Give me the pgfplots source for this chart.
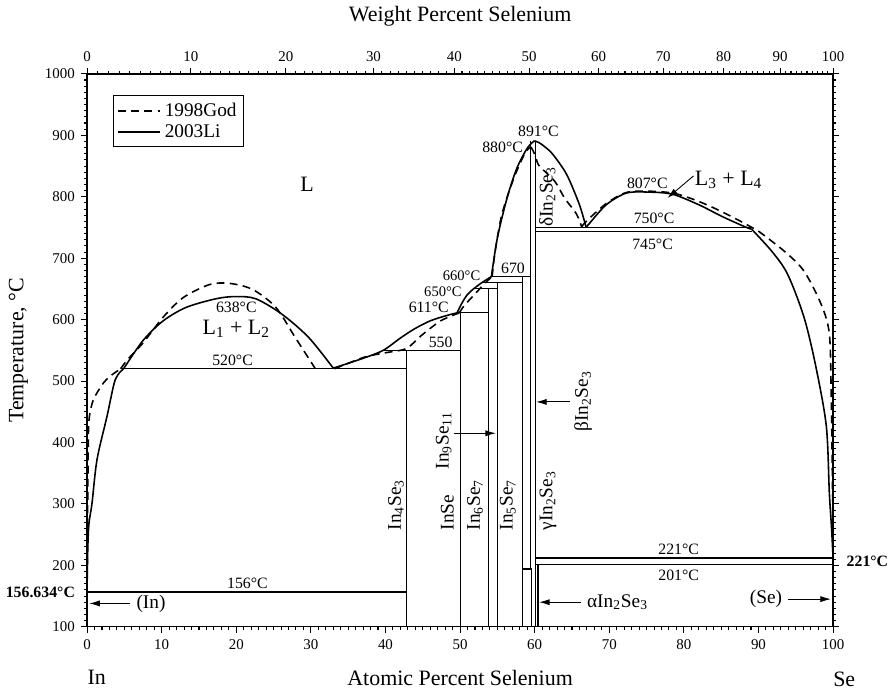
\documentclass[border=0pt]{standalone}
\usepackage{fontspec}
\setmainfont{Liberation Serif}
\usepackage{pgfplots}
\pgfplotsset{compat=1.18}
\usetikzlibrary{arrows.meta}
\newcommand\wtminor{0}
\foreach \w in {1,...,100}{\pgfmathparse{145.397*\w/(100+0.45397*\w)}\xdef\wtminor{\wtminor,\pgfmathresult}}
\newcommand\smf{\fontsize{9}{10}\selectfont}
\newcommand\xsf{\fontsize{8.3}{9}\selectfont}
\newcommand\mdf{\fontsize{11}{13}\selectfont}
\newcommand\lgf{\fontsize{12.5}{14}\selectfont}
\pgfplotsset{
  li/.style={black, line width=0.9pt, smooth, tension=0.5, no markers},
  god/.style={black, line width=0.9pt, dash pattern=on 4.5pt off 3pt, smooth, tension=0.5, no markers},
  bnd/.style={black, line width=0.65pt, no markers, forget plot},
}
\begin{document}
\begin{tikzpicture}[>={Latex[length=6pt,width=3.5pt]}]
\begin{axis}[
  width=425pt, height=315pt, scale only axis,
  xmin=0, xmax=100, ymin=100, ymax=1000,
  xtick={0,10,...,100}, ytick={100,200,...,1000},
  minor x tick num=9, minor y tick num=9,
  xtick pos=left,
  tick align=outside, major tick length=3.5pt, minor tick length=1.6pt,
  every tick/.style={black, line width=0.6pt},
  axis line style={line width=0.8pt},
  ticklabel style={font=\fontsize{8.5}{10}\selectfont},
  /pgf/number format/assume math mode=true,
  /pgf/number format/1000 sep={},
  xlabel={Atomic Percent Selenium},
  ylabel={Temperature, °C},
  xlabel style={font=\lgf, at={(axis description cs:0.5,-0.092)}, anchor=center},
  ylabel style={font=\lgf, at={(axis description cs:-0.092,0.5)}, anchor=center},
  clip=false,
  legend style={at={(0.035,0.961)}, anchor=north west, draw=black, line width=0.6pt, font=\mdf, inner sep=2pt, row sep=-1pt},
  legend cell align=left,
  legend image code/.code={\draw[#1] (0cm,0cm) -- (0.85cm,0cm);},
]
% 1998God (dashed)
\addplot[god] coordinates {(0,156.634) (0.05,250) (0.12,350) (0.22,430) (0.6,460) (1.1,476) (2.2,497) (3.1,508) (4.5,520)};
\addlegendentry{1998God}
% 2003Li (solid)
\addplot[li] coordinates {(0,156.634) (0.02,180) (0.1,230) (0.25,268) (0.66,301) (1.33,372) (2.66,442) (3.77,502) (4.9,520)};
\addlegendentry{2003Li}

% --- 1998God remaining branches
\addplot[god, forget plot] coordinates {(4.5,520) (5.5,536) (7.5,562) (10.2,604) (12.9,636) (16.4,657) (19.1,659) (22.2,649) (25.3,620) (27.9,571) (30.6,520)};
\addplot[god, forget plot] coordinates {(33.2,520) (37.2,539) (40,546) (42.8,553) (44.8,574) (47.4,598) (49.9,611)};
\addplot[god, forget plot] coordinates {(49.9,611) (50.5,622) (51.4,634) (52.4,647) (53.3,659) (54.3,670)};
\addplot[god, forget plot] coordinates {(54.3,670) (54.7,711) (55.6,771) (57.2,830) (58.7,871) (59.5,881)};
\addplot[god, forget plot] coordinates {(59.5,881) (59.9,872) (60.3,858) (60.7,849) (62.7,825) (64.0,798) (65.6,772) (66.3,751)};
\addplot[god, forget plot] coordinates {(66.3,751) (67,761) (69.6,789) (72.3,807) (75.4,809) (78.5,806) (81,797) (83.8,783) (87.3,762) (90,744)};
\addplot[god, forget plot] coordinates {(90,744) (93.5,711) (96.1,679) (98.4,625) (99.5,577) (99.75,480) (99.9,350) (100,212)};

% --- 2003Li remaining branches
\addplot[li, forget plot] coordinates {(4.9,520) (7.5,566) (10.2,598) (13.3,620) (17.3,634) (19.9,637.5) (22.6,634) (26.1,609) (29.7,571) (33.0,521)};
\addplot[li, forget plot] coordinates {(33.0,521) (37,537) (39.7,550) (42,570) (43.9,585) (46,598) (48.3,607) (49.6,611)};
\addplot[li, forget plot] coordinates {(49.6,611) (50.3,628) (51.0,641) (51.8,650) (52.9,660) (54.2,670)};
\addplot[li, forget plot] coordinates {(54.2,670) (55.0,733) (56.3,798) (57.6,846) (59.0,879) (59.95,891)};
\addplot[li, forget plot] coordinates {(59.95,891) (60.6,888) (61.5,880) (62.5,868) (64.3,836) (66.0,787) (66.9,750)};
\addplot[li, forget plot] coordinates {(66.9,750) (67.3,756) (69.6,787) (72.3,806) (75.4,807.5) (78.5,804) (82.0,787) (85.1,768) (88.2,751) (89.1,747)};
\addplot[li, forget plot] coordinates {(89.1,747) (91.8,711) (93.9,674) (96.1,604) (97.7,523) (99.1,426) (99.5,318) (99.8,260) (100,212)};

% --- invariant lines
\addplot[bnd] coordinates {(0,156.634) (42.86,156.634)};
\addplot[bnd] coordinates {(4.5,520) (42.86,520)};
\addplot[bnd] coordinates {(39.7,550) (50,550)};
\addplot[bnd] coordinates {(49.6,611) (53.85,611)};
\addplot[bnd] coordinates {(51.8,650) (55,650)};
\addplot[bnd] coordinates {(52.9,660) (58.33,660)};
\addplot[bnd] coordinates {(54.2,670) (59.4,670)};
\addplot[bnd] coordinates {(60.1,750) (89.1,750)};
\addplot[bnd] coordinates {(60.1,744) (89.1,744)};
\addplot[bnd] coordinates {(60.1,212) (100,212)};
\addplot[bnd] coordinates {(60.1,201) (100,201)};
\addplot[bnd] coordinates {(58.33,194) (59.6,194)};
% --- compounds
\addplot[bnd] coordinates {(42.86,100) (42.86,550)};
\addplot[bnd] coordinates {(50,100) (50,611)};
\addplot[bnd] coordinates {(53.85,100) (53.85,650)};
\addplot[bnd] coordinates {(55,100) (55,660)};
\addplot[bnd] coordinates {(58.33,100) (58.33,670)};
\addplot[bnd] coordinates {(59.4,194) (59.4,891)};
\addplot[bnd] coordinates {(60.1,100) (60.1,891)};
\addplot[bnd] coordinates {(59.6,100) (59.6,194)};
\addplot[bnd, line width=1.1pt] coordinates {(60.4,100) (60.4,201)};

% --- labels
\node[font=\lgf] at (axis cs:29.5,820) {L};
\node[font=\smf] at (axis cs:20,620) {638°C};
\node[font=\lgf] at (axis cs:20,585) {L\textsubscript{1} + L\textsubscript{2}};
\node[font=\smf] at (axis cs:19.5,533) {520°C};
\node[font=\smf] at (axis cs:21.5,170) {156°C};
\node[font=\mdf, anchor=west] at (axis cs:5.8,138) {(In)};
\draw[->, line width=0.5pt] (axis cs:5.8,138) -- (axis cs:0.3,138);
\node[font=\smf] at (axis cs:47.4,563) {550};
\node[font=\smf] at (axis cs:45.8,620) {611°C};
\node[font=\xsf] at (axis cs:47.7,646) {650°C};
\node[font=\xsf] at (axis cs:50.2,671) {660°C};
\node[font=\smf] at (axis cs:57.1,683) {670};
\node[font=\smf] at (axis cs:55.7,881) {880°C};
\node[font=\smf] at (axis cs:60.5,907) {891°C};
\node[font=\mdf, rotate=90] at (axis cs:61.7,800) {δIn\textsubscript{2}Se\textsubscript{3}};
\node[font=\smf] at (axis cs:75.1,822) {807°C};
\node[font=\lgf] at (axis cs:86,828) {L\textsubscript{3} + L\textsubscript{4}};
\draw[->, line width=0.5pt] (axis cs:81.3,834) -- (axis cs:77.8,798);
\node[font=\smf] at (axis cs:76,765) {750°C};
\node[font=\smf] at (axis cs:75.8,723) {745°C};
\node[font=\smf] at (axis cs:79.3,226) {221°C};
\node[font=\smf] at (axis cs:79.3,184) {201°C};
\node[font=\mdf, anchor=east] at (axis cs:94,145) {(Se)};
\draw[->, line width=0.5pt] (axis cs:94,145) -- (axis cs:99.7,145);
\node[font=\mdf, anchor=west] at (axis cs:66.2,140) {αIn\textsubscript{2}Se\textsubscript{3}};
\draw[->, line width=0.5pt] (axis cs:66.2,140) -- (axis cs:60.6,140);
\node[font=\mdf, rotate=90] at (axis cs:66.5,467) {βIn\textsubscript{2}Se\textsubscript{3}};
\draw[->, line width=0.5pt] (axis cs:64.8,466) -- (axis cs:60.2,466);
\node[font=\mdf, rotate=90] at (axis cs:47.8,403) {In\textsubscript{9}Se\textsubscript{11}};
\draw[->, line width=0.5pt] (axis cs:49.2,415) -- (axis cs:54.8,415);
\node[font=\mdf, rotate=90, anchor=west] at (axis cs:41.4,247) {In\textsubscript{4}Se\textsubscript{3}};
\node[font=\mdf, rotate=90, anchor=west] at (axis cs:48.3,247) {InSe};
\node[font=\mdf, rotate=90, anchor=west] at (axis cs:52.0,247) {In\textsubscript{6}Se\textsubscript{7}};
\node[font=\mdf, rotate=90, anchor=west] at (axis cs:56.4,247) {In\textsubscript{5}Se\textsubscript{7}};
\node[font=\mdf, rotate=90, anchor=west] at (axis cs:61.8,247) {γIn\textsubscript{2}Se\textsubscript{3}};
\node[font=\smf\bfseries, anchor=east] at (axis cs:-0.8,156.634) {156.634°C};
\node[font=\smf\bfseries, anchor=west] at (axis cs:101,207) {221°C};
\node[font=\lgf] at (axis description cs:0.013,-0.092) {In};
\node[font=\lgf] at (axis description cs:1.015,-0.095) {Se};
\end{axis}
\begin{axis}[
  width=425pt, height=315pt, scale only axis,
  xmin=0, xmax=100, ymin=100, ymax=1000,
  axis x line*=top, axis y line=none, ytick=\empty,
  xtick={0,13.908,26.659,38.391,49.221,59.250,68.563,77.234,85.329,92.901,100},
  xticklabels={0,10,20,30,40,50,60,70,80,90,100},
  minor xtick/.expanded={\wtminor},
  tick align=outside, major tick length=3.5pt, minor tick length=1.6pt,
  every tick/.style={black, line width=0.6pt},
  axis line style={line width=0.8pt},
  ticklabel style={font=\fontsize{8.5}{10}\selectfont},
  /pgf/number format/assume math mode=true,
  xlabel={Weight Percent Selenium},
  xlabel style={font=\lgf, at={(axis description cs:0.5,1.105)}, anchor=center},
]
\end{axis}
\end{tikzpicture}
\end{document}
